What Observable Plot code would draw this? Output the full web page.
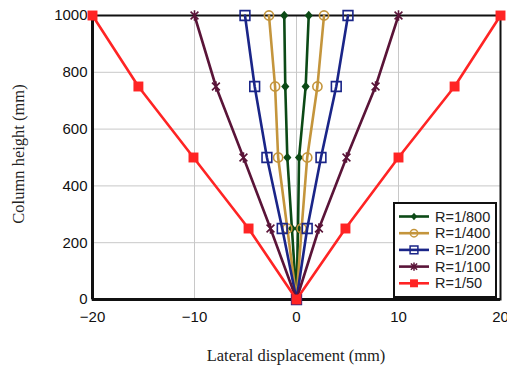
<!DOCTYPE html>
<html><head><meta charset="utf-8">
<script src="https://cdn.jsdelivr.net/npm/d3@7"></script>
<script src="https://cdn.jsdelivr.net/npm/@observablehq/plot@0.6"></script>
<style>
body{margin:0;background:#fff}
#chart{position:relative;width:507px;height:368px}
</style>
</head><body><div id="chart"></div>
<script>
// Data
const heights = [1000, 750, 500, 250, 0, 250, 500, 750, 1000];
const seriesNames = ["R=1/800", "R=1/400", "R=1/200", "R=1/100", "R=1/50"];
const r800 = [-1.2, -1.1, -0.9, -0.45, 0, 0.15, 0.25, 0.9, 1.2];
const r400 = [-2.7, -2.1, -1.8, -0.9, 0, 0.5, 1.05, 2.05, 2.7];
const r200 = [-5.05, -4.1, -2.9, -1.4, 0, 1.05, 2.4, 3.9, 5.05];
const r100 = [-10, -7.9, -5.2, -2.55, 0, 2.2, 4.9, 7.75, 10];
const r50 = [-20, -15.5, -10.1, -4.7, 0, 4.8, 10, 15.5, 20];
const xTicks = [-20, -10, 0, 10, 20];
const yTicks = [0, 200, 400, 600, 800, 1000];
const xTitle = "Lateral displacement (mm)";
const yTitle = "Column height (mm)";
const colors = ["#0c4a16", "#c4953c", "#1a2588", "#5a1438", "#ff2424"];

const symDiamond = {draw(ctx, size) {
  const r = Math.sqrt(size / Math.PI);
  const w = r * 0.95, h = r * 1.1;
  ctx.moveTo(0, -h); ctx.lineTo(w, 0); ctx.lineTo(0, h); ctx.lineTo(-w, 0); ctx.closePath();
}};
const symStar = {draw(ctx, size) {
  const r = Math.sqrt(size / Math.PI);
  const d = r * 0.75;
  ctx.moveTo(0, -r); ctx.lineTo(0, r);
  ctx.moveTo(-d, -d); ctx.lineTo(d, d);
  ctx.moveTo(-d, d); ctx.lineTo(d, -d);
}};

const seriesValues = [r800, r400, r200, r100, r50];
const markerSpecs = [
  {symbol: symDiamond, r: 4.3, filled: true},
  {symbol: "circle", r: 4.6, filled: false},
  {symbol: "square", r: 5.5, filled: false},
  {symbol: symStar, r: 5.2, filled: false},
  {symbol: "square", r: 5.6, filled: true}
];

const rows = [];
seriesNames.forEach((name, i) => {
  seriesValues[i].forEach((x, j) => rows.push({series: name, idx: i, x, y: heights[j]}));
});

const seriesMarks = [];
seriesNames.forEach((name, i) => {
  const data = rows.filter(d => d.series === name);
  const m = markerSpecs[i];
  seriesMarks.push(Plot.line(data, {x: "x", y: "y", stroke: colors[i], strokeWidth: 2.6}));
  seriesMarks.push(Plot.dot(data, {
    x: "x", y: "y", r: m.r, symbol: m.symbol,
    fill: m.filled ? colors[i] : "none",
    stroke: m.filled ? "none" : colors[i],
    strokeWidth: 1.6
  }));
});

const chart = Plot.plot({
  width: 507, height: 368,
  marginLeft: 92, marginRight: 7, marginTop: 15, marginBottom: 69,
  x: {domain: [-20, 20]},
  y: {domain: [0, 1000]},
  style: {fontFamily: "'Liberation Sans', Arial, sans-serif", fontSize: "15px", color: "#111", background: "white", overflow: "visible"},
  marks: [
    Plot.gridX(xTicks, {stroke: "#c8c8c8", strokeOpacity: 1, strokeWidth: 1}),
    Plot.gridY(yTicks, {stroke: "#c8c8c8", strokeOpacity: 1, strokeWidth: 1}),
    Plot.frame({stroke: "#111", strokeWidth: 2}),
    Plot.ruleX([-20], {stroke: "#111", strokeWidth: 3}),
    Plot.ruleY([0], {stroke: "#111", strokeWidth: 3}),
    Plot.axisX(xTicks, {tickSize: 0, tickPadding: 12, label: null, fill: "#111", tickFormat: d3.format("d")}),
    Plot.axisY(yTicks, {tickSize: 0, tickPadding: 5, label: null, fill: "#111", tickFormat: d3.format("d")}),
    ...seriesMarks
  ]
});
document.getElementById("chart").appendChild(chart);

const svg = d3.select(chart);
// Axis titles
svg.append("text").attr("x", 296).attr("y", 355).attr("text-anchor", "middle")
  .attr("dominant-baseline", "central")
  .attr("font-family", "'Liberation Serif', 'Times New Roman', serif").attr("font-size", 16.5)
  .attr("fill", "#222").text(xTitle);
svg.append("text").attr("transform", "translate(18,154) rotate(-90)").attr("text-anchor", "middle")
  .attr("dominant-baseline", "central")
  .attr("font-family", "'Liberation Serif', 'Times New Roman', serif").attr("font-size", 16.5)
  .attr("fill", "#222").text(yTitle);

// Legend
const lg = svg.append("g");
lg.append("rect").attr("x", 394).attr("y", 203).attr("width", 102).attr("height", 94)
  .attr("fill", "white").attr("stroke", "#111").attr("stroke-width", 2);
seriesNames.forEach((name, i) => {
  const y = 216.5 + i * 16.7;
  const m = markerSpecs[i];
  lg.append("line").attr("x1", 399).attr("x2", 429).attr("y1", y).attr("y2", y)
    .attr("stroke", colors[i]).attr("stroke-width", 2.6);
  const sym = typeof m.symbol === "string" ? (m.symbol === "circle" ? d3.symbolCircle : d3.symbolSquare) : m.symbol;
  const rr = m.r * 0.8;
  lg.append("path").attr("transform", `translate(414,${y})`)
    .attr("d", d3.symbol(sym, rr * rr * Math.PI)())
    .attr("fill", m.filled ? colors[i] : "none")
    .attr("stroke", m.filled ? "none" : colors[i]).attr("stroke-width", 1.5);
  lg.append("text").attr("x", 435).attr("y", y).attr("dominant-baseline", "central")
    .attr("text-anchor", "start")
    .attr("font-size", 14.5).attr("fill", "#222").text(name);
});
</script>
</body></html>
